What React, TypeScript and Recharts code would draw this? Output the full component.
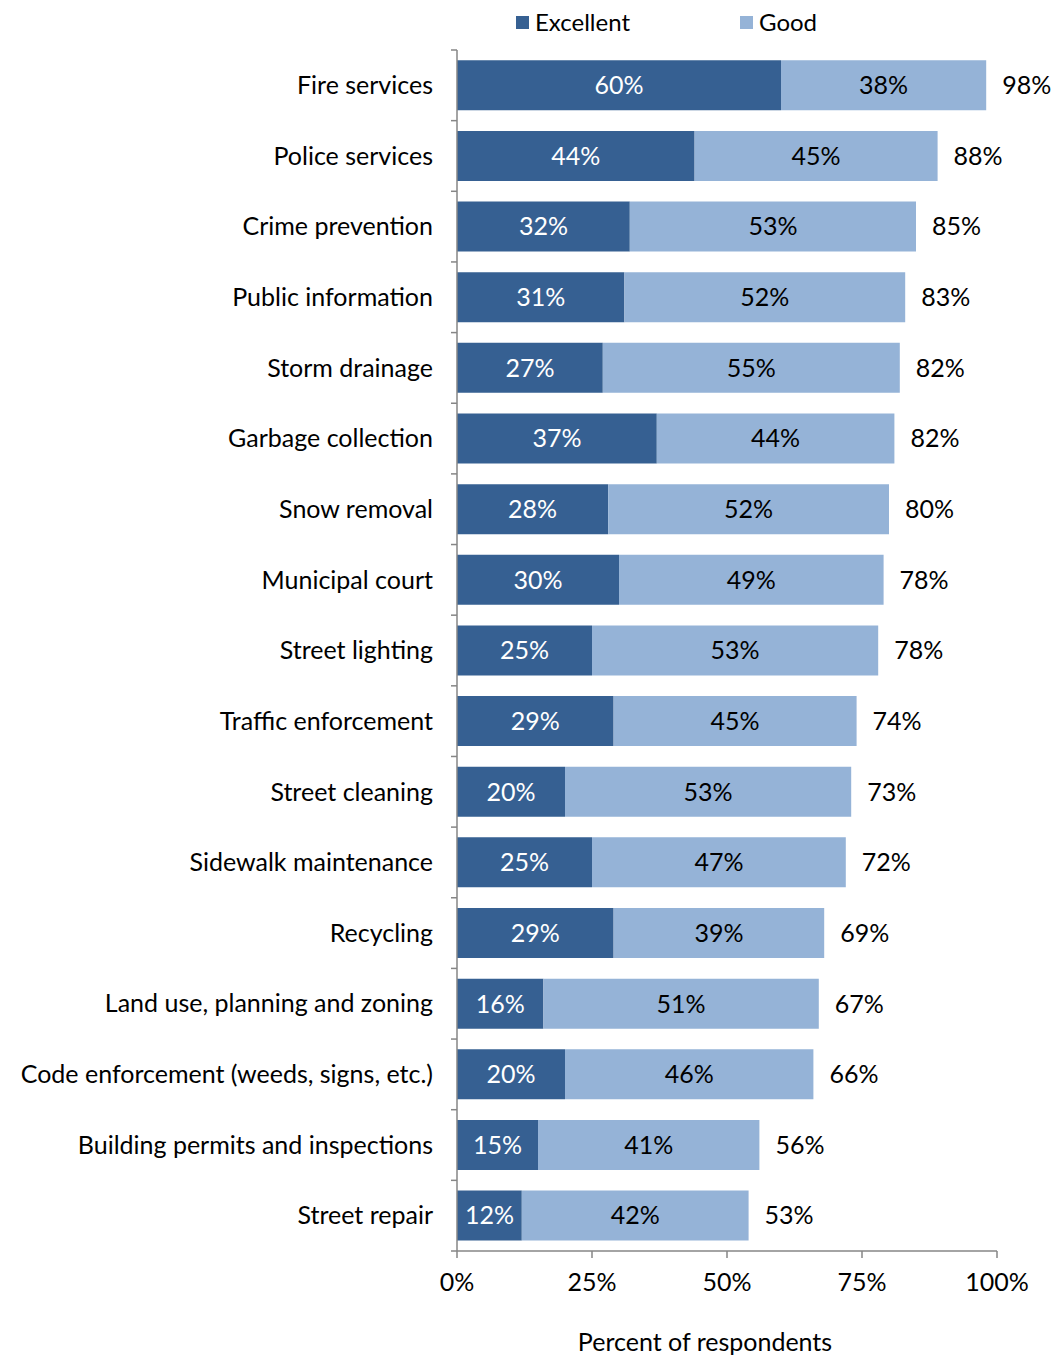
import React from 'react';
import { BarChart, Bar, XAxis, YAxis, LabelList, Label } from 'recharts';

const categories = [
  'Fire services', 'Police services', 'Crime prevention', 'Public information', 'Storm drainage',
  'Garbage collection', 'Snow removal', 'Municipal court', 'Street lighting', 'Traffic enforcement',
  'Street cleaning', 'Sidewalk maintenance', 'Recycling', 'Land use, planning and zoning',
  'Code enforcement (weeds, signs, etc.)', 'Building permits and inspections', 'Street repair',
];
const excellent = [60, 44, 32, 31, 27, 37, 28, 30, 25, 29, 20, 25, 29, 16, 20, 15, 12];
const good = [38, 45, 53, 52, 55, 44, 52, 49, 53, 45, 53, 47, 39, 51, 46, 41, 42];
const totals = [98, 88, 85, 83, 82, 82, 80, 78, 78, 74, 73, 72, 69, 67, 66, 56, 53];
const xTicks = [0, 25, 50, 75, 100];

const data = categories.map((name, i) => ({
  name,
  excellent: excellent[i],
  good: good[i],
  total: totals[i],
}));

const W = 1056;
const H = 1357;
const PLOT_LEFT = 457;
const PLOT_RIGHT = 997;
const PLOT_TOP = 50;
const PLOT_BOTTOM = 1251;
const BAND = (PLOT_BOTTOM - PLOT_TOP) / categories.length;
const FONT = 'Lato, "Open Sans", sans-serif';
const FS = 25;
const AXIS = '#868686';
const DARK = '#366092';
const LIGHT = '#95B3D7';

const CatTick = (props: any) => {
  const { y, payload, index } = props;
  const half = BAND / 2;
  return (
    <g>
      <text x={PLOT_LEFT - 24} y={y} dy="0.35em" textAnchor="end" fontSize={FS} fontFamily={FONT} fill="#000">
        {payload.value}
      </text>
      <line x1={PLOT_LEFT - 6} x2={PLOT_LEFT} y1={y - half} y2={y - half} stroke={AXIS} strokeWidth={1.5} />
      {index === categories.length - 1 && (
        <line x1={PLOT_LEFT - 6} x2={PLOT_LEFT} y1={y + half} y2={y + half} stroke={AXIS} strokeWidth={1.5} />
      )}
    </g>
  );
};

const XTick = (props: any) => {
  const { x, y, payload } = props;
  return (
    <text x={x} y={y} dy="0.35em" textAnchor="middle" fontSize={FS} fontFamily={FONT} fill="#000">
      {payload.value + '%'}
    </text>
  );
};

export default function App() {
  return (
    <div style={{ position: 'absolute', left: 0, top: 0, width: W, height: H, background: '#fff' }}>
      <div style={{ position: 'absolute', top: 7, left: 0, width: W, height: 30, fontFamily: FONT, fontSize: 24, color: '#000' }}>
        <div style={{ position: 'absolute', left: 516, top: 9, width: 13, height: 13, background: DARK }} />
        <div style={{ position: 'absolute', left: 535, top: 0, lineHeight: '30px' }}>Excellent</div>
        <div style={{ position: 'absolute', left: 740, top: 9, width: 13, height: 13, background: LIGHT }} />
        <div style={{ position: 'absolute', left: 759, top: 0, lineHeight: '30px' }}>Good</div>
      </div>
      <BarChart
        width={W}
        height={H}
        data={data}
        layout="vertical"
        barCategoryGap="14.5%"
        margin={{ top: PLOT_TOP, right: W - PLOT_RIGHT, bottom: 0, left: 0 }}
      >
        <XAxis
          type="number"
          domain={[0, 100]}
          ticks={xTicks}
          axisLine={{ stroke: AXIS, strokeWidth: 1.5 }}
          tickLine={{ stroke: AXIS, strokeWidth: 1.5 }}
          tickSize={7}
          tickMargin={24}
          tick={<XTick />}
          height={H - PLOT_BOTTOM}
          interval={0}
        >
          <Label
            value="Percent of respondents"
            position="insideBottom"
            offset={6}
            dx={-22}
            style={{ fontSize: FS, fontFamily: FONT, fill: '#000' }}
          />
        </XAxis>
        <YAxis
          type="category"
          dataKey="name"
          width={PLOT_LEFT}
          axisLine={{ stroke: AXIS, strokeWidth: 1.5 }}
          tickLine={false}
          tick={<CatTick />}
          interval={0}
        />
        <Bar dataKey="excellent" stackId="a" fill={DARK} isAnimationActive={false}>
          <LabelList
            dataKey="excellent"
            position="center"
            formatter={(v: any) => v + '%'}
            style={{ fill: '#fff', fontSize: FS, fontFamily: FONT }}
          />
        </Bar>
        <Bar dataKey="good" stackId="a" fill={LIGHT} isAnimationActive={false}>
          <LabelList
            dataKey="good"
            position="center"
            formatter={(v: any) => v + '%'}
            style={{ fill: '#000', fontSize: FS, fontFamily: FONT }}
          />
          <LabelList
            dataKey="total"
            position="right"
            offset={16}
            formatter={(v: any) => v + '%'}
            style={{ fill: '#000', fontSize: FS, fontFamily: FONT }}
          />
        </Bar>
      </BarChart>
    </div>
  );
}
